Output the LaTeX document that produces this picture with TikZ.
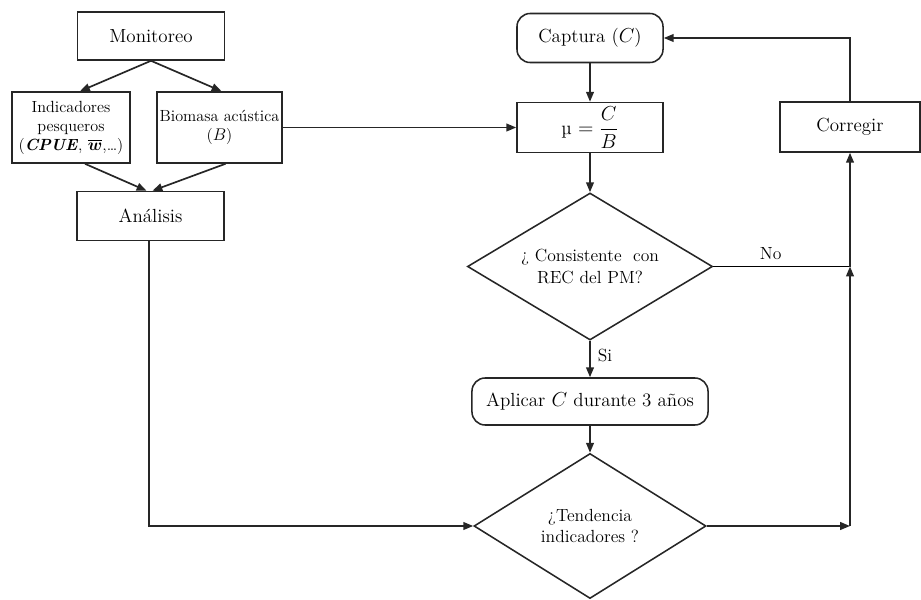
\documentclass[tikz,border=0pt]{standalone}
\usepackage{amsmath}
\usepackage{amssymb}
\usepackage{tikz}
\usetikzlibrary{shapes.geometric,arrows.meta}

\begin{document}
\begin{tikzpicture}[x=0.025cm,y=-0.025cm,line width=1.2pt,
    every node/.style={draw=black!85,line width=1.1pt,align=center,inner sep=2pt},
    caja/.style={rectangle,font=\fontsize{13.5}{15}\selectfont},
    cajachica/.style={rectangle,font=\fontsize{11.5}{13.5}\selectfont},
    redonda/.style={rectangle,rounded corners=0.33cm,font=\fontsize{13.5}{15}\selectfont},
    decision/.style={diamond,aspect=1.6,inner sep=0pt,font=\fontsize{12.5}{15}\selectfont},
    etiqueta/.style={draw=none,font=\fontsize{12.5}{14}\selectfont},
    flecha/.style={draw=black!85,-{Triangle[length=7pt,width=5.5pt]}}]
    \useasboundingbox (0,0) rectangle (921,599);
    \node[caja,minimum width=3.675cm,minimum height=1.2cm] (monitoreo) at (151,36) {Monitoreo};
    \node[cajachica,minimum width=2.95cm,minimum height=1.775cm] (indicadores) at (71,127.5)
        {Indicadores\\pesqueros\\(\textbf{\textit{CPUE}}, $\overline{\boldsymbol{w}}$,\dots)};
    \node[cajachica,minimum width=2.925cm,minimum height=1.775cm] (biomasa) at (219.5,127.5)
        {Biomasa ac\'ustica\\($B$)};
    \node[caja,minimum width=3.675cm,minimum height=1.225cm] (analisis) at (150.5,216) {An\'alisis};
    \node[redonda,minimum width=3.65cm,minimum height=1.225cm] (captura) at (590,38) {Captura ($C$)};
    \node[caja,minimum width=3.65cm,minimum height=1.25cm] (mu) at (590,127.5) {µ $=\dfrac{C}{B}$};
    \node[caja,minimum width=3.5cm,minimum height=1.25cm] (corregir) at (850,127) {Corregir};
    \node[decision,minimum width=6.125cm,minimum height=3.675cm] (consistente) at (590,266.5)
        {?`\ Consistente\ \ con\\REC del PM?};
    \node[redonda,minimum width=5.9cm,minimum height=1.175cm] (aplicar) at (590,401.5)
        {Aplicar $C$ durante 3 a\~nos};
    \node[decision,minimum width=5.8cm,minimum height=3.625cm] (tendencia) at (590,526)
        {?`Tendencia\\indicadores ?};
    \coordinate (union) at (850,266.5);
    \coordinate (baja) at (149,526);
    \coordinate (llega) at (850,526);

    \draw[flecha] (monitoreo.south) -- ([xshift=0.225cm]indicadores.north);
    \draw[flecha] (monitoreo.south) -- ([xshift=0.05cm]biomasa.north);
    \draw[flecha] ([xshift=0.35cm]indicadores.south) -- ([xshift=-0.1cm]analisis.north);
    \draw[flecha] ([xshift=0.15cm]biomasa.south) -- ([xshift=0.05cm]analisis.north);
    \draw[flecha] (biomasa.east) -- (mu.west);
    \draw[flecha] (captura) -- (mu);
    \draw[flecha] (mu) -- (consistente);
    \draw[flecha] (consistente) -- node[etiqueta,right=3pt,pos=0.4] {Si} (aplicar);
    \draw[flecha] (aplicar) -- (tendencia);
    \draw (consistente.east) -- node[etiqueta,above=2pt,pos=0.42] {No} (union);
    \draw[flecha] (union) -- (corregir.south);
    \draw[flecha] (corregir.north) |- (captura.east);
    \draw[flecha] (analisis.south -| baja) -- (baja) -- (tendencia.west);
    \draw[flecha] (tendencia.east) -- (llega);
    \draw[flecha] (llega) -- (union);
\end{tikzpicture}
\end{document}
